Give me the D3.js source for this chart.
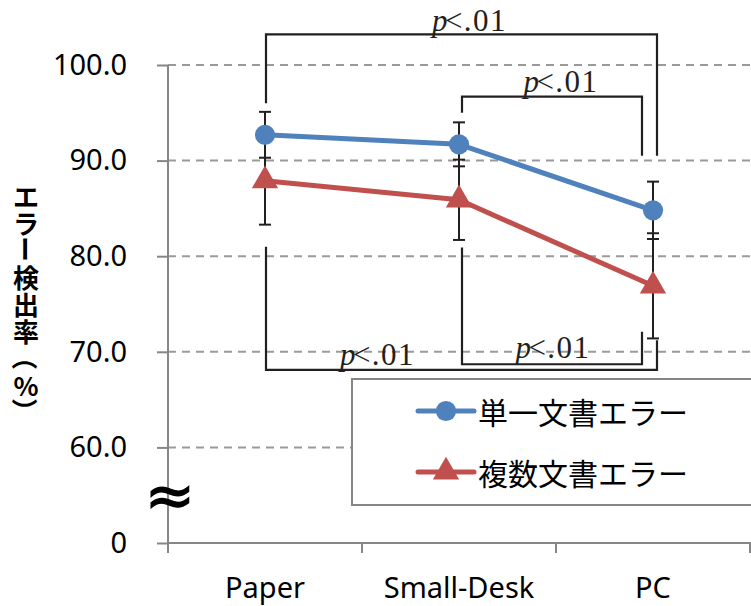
<!DOCTYPE html>
<html>
<head>
<meta charset="utf-8">
<script src="https://cdn.jsdelivr.net/npm/d3@7"></script>
<style>
  html, body { margin: 0; padding: 0; background: #fff; }
  svg { display: block; }
</style>
</head>
<body>
<svg id="chart" width="751" height="606"></svg>
<script>
// Conditions on the x axis
const categories = ["Paper", "Small-Desk", "PC"];

// Mean error-detection rate (%) and error-bar half-widths per condition
const singleMeans = [92.7, 91.7, 84.8];
const singleErrors = [2.4, 2.3, 3.0];
const multiMeans = [87.9, 85.9, 76.9];
const multiErrors = [4.6, 4.2, 5.5];

const seriesNames = ["単一文書エラー", "複数文書エラー"];
const yTitle = "エラー検出率（%）";

// Y ticks: the axis is broken between 0 and 60, so the lowest tick reads "0"
const yTickValues = [50, 60, 70, 80, 90, 100];
const yTickLabels = ["0", "60.0", "70.0", "80.0", "90.0", "100.0"];

// Significance brackets: pair of conditions, bracket level, leg ends, label
const brackets = [
  { from: "Paper", to: "PC", level: 103.2, fromEnd: 96.0, toEnd: 90.5, label: ".01" },
  { from: "Small-Desk", to: "PC", level: 96.7, fromEnd: 95.0, toEnd: 90.5, label: ".01" },
  { from: "Paper", to: "PC", level: 68.1, fromEnd: 81.0, toEnd: 71.2, label: ".01" },
  { from: "Small-Desk", to: "PC", level: 68.7, fromEnd: 80.9, toEnd: 72.1, label: ".01" }
];

const svg = d3.select("#chart");
const W = 751;
const plot = { left: 168, right: 750, top: 65, bottom: 543 };

const x = d3.scaleBand().domain(categories).range([plot.left, plot.right]).padding(0);
const y = d3.scaleLinear().domain([50, 100]).range([plot.bottom, plot.top]);
const cx = c => x(c) + x.bandwidth() / 2;

const axisGray = "#868686";
const gridGray = "#9a9a9a";
const ink = "#231f20";
const blue = "#4f81bd";
const red = "#c0504d";

// Dashed horizontal gridlines
svg.append("g")
  .selectAll("line")
  .data(yTickValues.filter(v => v > 50))
  .join("line")
  .attr("x1", plot.left).attr("x2", W)
  .attr("y1", d => y(d)).attr("y2", d => y(d))
  .attr("stroke", gridGray).attr("stroke-width", 2)
  .attr("stroke-dasharray", "8,6");

// Y axis
const yAxis = d3.axisLeft(y)
  .tickValues(yTickValues)
  .tickFormat((d, i) => yTickLabels[i])
  .tickSize(11)
  .tickPadding(30);
const gy = svg.append("g").attr("transform", `translate(${plot.left},0)`).call(yAxis);
gy.select(".domain").remove();
gy.selectAll(".tick line").attr("stroke", axisGray).attr("stroke-width", 2);
gy.selectAll(".tick text")
  .attr("font-family", "'Noto Sans', sans-serif")
  .attr("font-size", 29).attr("fill", "#000");
svg.append("line")
  .attr("x1", plot.left).attr("x2", plot.left)
  .attr("y1", plot.top).attr("y2", plot.bottom + 10)
  .attr("stroke", axisGray).attr("stroke-width", 2);

// X axis
const gx = svg.append("g").attr("transform", `translate(0,${plot.bottom})`)
  .call(d3.axisBottom(x).tickSize(0).tickPadding(34));
gx.select(".domain").remove();
gx.selectAll(".tick text")
  .attr("font-family", "'Noto Sans', sans-serif")
  .attr("font-size", 29).attr("fill", "#000");
svg.append("line")
  .attr("x1", plot.left).attr("x2", W)
  .attr("y1", plot.bottom).attr("y2", plot.bottom)
  .attr("stroke", axisGray).attr("stroke-width", 2);
svg.append("g")
  .selectAll("line")
  .data(categories.map(c => x(c)).concat([x(categories[categories.length - 1]) + x.bandwidth()]))
  .join("line")
  .attr("x1", d => d).attr("x2", d => d)
  .attr("y1", plot.bottom).attr("y2", plot.bottom + 10)
  .attr("stroke", axisGray).attr("stroke-width", 2);

// Axis break mark
svg.append("text")
  .attr("x", plot.left + 2).attr("y", y(55))
  .attr("text-anchor", "middle").attr("dominant-baseline", "central")
  .attr("font-family", "'DejaVu Sans', sans-serif")
  .attr("font-size", 60)
  .attr("stroke", "#000").attr("stroke-width", 1.2)
  .text("≈");

// Y axis title, stacked one character per row; the long-vowel mark and
// the parentheses are turned a quarter so they read vertically
const titleG = svg.append("g")
  .attr("font-family", "'Noto Sans CJK JP', sans-serif")
  .attr("font-size", 26).attr("font-weight", "bold").attr("fill", "#000");
Array.from(yTitle).forEach((ch, i) => {
  const ty = 195 + i * 27;
  const turn = "ー（）".includes(ch);
  titleG.append("text")
    .attr("x", 26).attr("y", ty)
    .attr("text-anchor", "middle").attr("dominant-baseline", "central")
    .attr("transform", turn ? `rotate(90,26,${ty})` : null)
    .text(ch);
});

// Significance brackets
const bracketX = { "Paper": 1, "Small-Desk": 3, "PC": [-11, 4] };
const endX = (b, i) => cx(b.to) + (i % 2 === 0 ? bracketX[b.to][1] : bracketX[b.to][0]);
const gb = svg.append("g");
brackets.forEach((b, i) => {
  const x1 = cx(b.from) + bracketX[b.from];
  const x2 = endX(b, i);
  const path = d3.path();
  path.moveTo(x1, y(b.fromEnd));
  path.lineTo(x1, y(b.level));
  path.lineTo(x2, y(b.level));
  path.lineTo(x2, y(b.toEnd));
  gb.append("path").attr("d", path.toString())
    .attr("fill", "none").attr("stroke", ink).attr("stroke-width", 2.2);
});

// Labels for the brackets
const labelShift = [8, 9, -84, 1];
const labelRaise = [3, 5, 5, 6];
brackets.forEach((b, i) => {
  const x1 = cx(b.from) + bracketX[b.from];
  const x2 = endX(b, i);
  const t = gb.append("text")
    .attr("x", (x1 + x2) / 2 + labelShift[i])
    .attr("y", y(b.level) - labelRaise[i])
    .attr("text-anchor", "middle")
    .attr("font-family", "'Liberation Serif', serif")
    .attr("font-size", 31).attr("fill", ink)
    .style("letter-spacing", "1.5px");
  t.append("tspan").attr("font-style", "italic").text("p");
  t.append("tspan").attr("dx", -4).text("<" + b.label);
});

// Series
const series = [
  { name: seriesNames[0], means: singleMeans, errs: singleErrors, color: blue, symbol: d3.symbolCircle, size: 320 },
  { name: seriesNames[1], means: multiMeans, errs: multiErrors, color: red, symbol: d3.symbolTriangle, size: 300 }
];

// Error bars
series.forEach(s => {
  const g = svg.append("g");
  categories.forEach((c, i) => {
    const top = y(s.means[i] + s.errs[i]);
    const bot = y(s.means[i] - s.errs[i]);
    const xc = cx(c);
    g.append("line").attr("x1", xc).attr("x2", xc).attr("y1", top).attr("y2", bot)
      .attr("stroke", ink).attr("stroke-width", 2);
    [top, bot].forEach(v => g.append("line")
      .attr("x1", xc - 6).attr("x2", xc + 6).attr("y1", v).attr("y2", v)
      .attr("stroke", ink).attr("stroke-width", 2));
  });
});

// Lines and markers
const line = d3.line().x((d, i) => cx(categories[i])).y(d => y(d));
series.slice().reverse().forEach(s => {
  svg.append("path").datum(s.means).attr("d", line)
    .attr("fill", "none").attr("stroke", s.color).attr("stroke-width", 5)
    .attr("stroke-linejoin", "round");
  svg.append("g").selectAll("path").data(s.means).join("path")
    .attr("transform", (d, i) => `translate(${cx(categories[i])},${y(d)})`)
    .attr("d", d3.symbol().type(s.symbol).size(s.size))
    .attr("fill", s.color);
});

// Legend
const lg = svg.append("g");
lg.append("rect")
  .attr("x", 352).attr("y", 379).attr("width", 420).attr("height", 126)
  .attr("fill", "#fff").attr("stroke", axisGray).attr("stroke-width", 2);
series.forEach((s, i) => {
  const ly = 411 + i * 61;
  lg.append("line").attr("x1", 418).attr("x2", 474).attr("y1", ly).attr("y2", ly)
    .attr("stroke", s.color).attr("stroke-width", 5).attr("stroke-linecap", "round");
  lg.append("path").attr("transform", `translate(446,${ly})`)
    .attr("d", d3.symbol().type(s.symbol).size(s.size)).attr("fill", s.color);
  lg.append("text").attr("x", 478).attr("y", ly)
    .attr("dominant-baseline", "central")
    .attr("font-family", "'Noto Sans CJK JP', sans-serif")
    .attr("font-size", 30).attr("fill", "#000")
    .text(s.name);
});
</script>
</body>
</html>
